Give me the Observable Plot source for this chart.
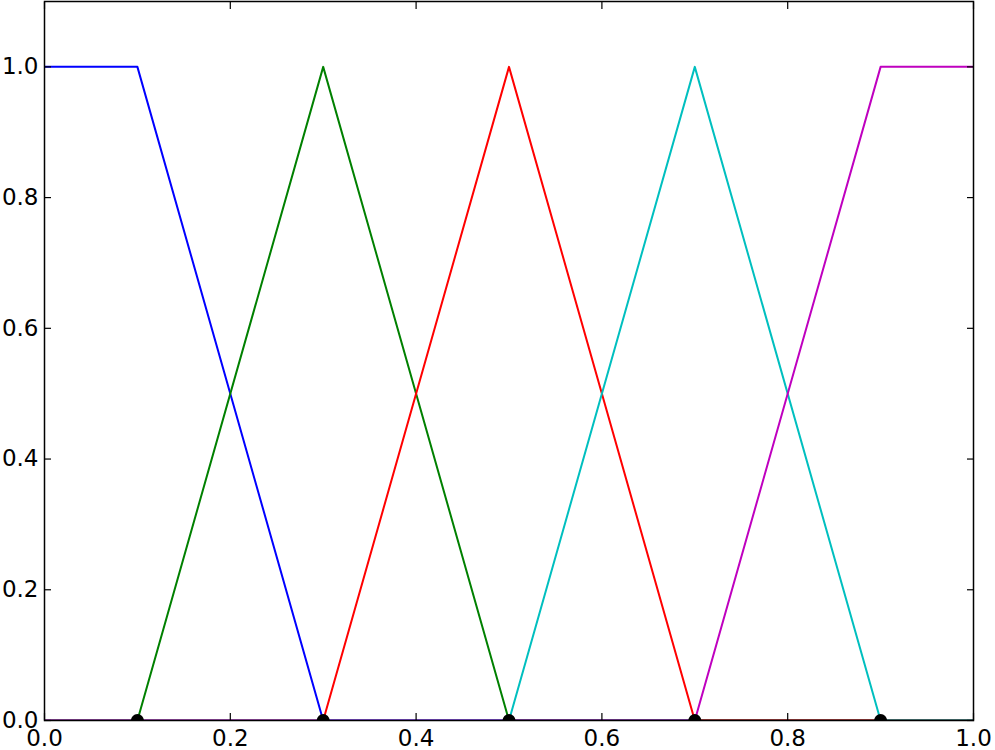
<!DOCTYPE html>
<html>
<head>
<meta charset="utf-8">
<script src="https://cdn.jsdelivr.net/npm/d3@7"></script>
<script src="https://cdn.jsdelivr.net/npm/@observablehq/plot@0.6"></script>
<style>
  html, body { margin: 0; padding: 0; background: #fff; }
  #chart svg { display: block; }
</style>
</head>
<body>
<div id="chart"></div>
<script>
// Membership functions (x breakpoints and y values)
const seriesNames = ["mf1", "mf2", "mf3", "mf4", "mf5"];
const seriesColors = ["#0000ff", "#008000", "#ff0000", "#00bfbf", "#bf00bf"];
const mf1X = [0, 0.1, 0.3, 1.0];
const mf1Y = [1, 1, 0, 0];
const mf2X = [0, 0.1, 0.3, 0.5, 1.0];
const mf2Y = [0, 0, 1, 0, 0];
const mf3X = [0, 0.3, 0.5, 0.7, 1.0];
const mf3Y = [0, 0, 1, 0, 0];
const mf4X = [0, 0.5, 0.7, 0.9, 1.0];
const mf4Y = [0, 0, 1, 0, 0];
const mf5X = [0, 0.7, 0.9, 1.0];
const mf5Y = [0, 0, 1, 1];
const dotX = [0.1, 0.3, 0.5, 0.7, 0.9];
const dotY = [0, 0, 0, 0, 0];
const xTicks = [0, 0.2, 0.4, 0.6, 0.8, 1.0];
const yTicks = [0, 0.2, 0.4, 0.6, 0.8, 1.0];

const allX = [mf1X, mf2X, mf3X, mf4X, mf5X];
const allY = [mf1Y, mf2Y, mf3Y, mf4Y, mf5Y];
const lineData = [];
allX.forEach((xs, i) => xs.forEach((x, j) => lineData.push({series: seriesNames[i], x, y: allY[i][j]})));
const dots = dotX.map((x, i) => ({x, y: dotY[i]}));

const font = "DejaVu Sans";
const fs = 23;
const chart = Plot.plot({
  width: 995,
  height: 750,
  marginLeft: 44,
  marginRight: 22,
  marginTop: 1,
  marginBottom: 30,
  style: {fontFamily: font, fontSize: fs + "px", color: "#000", background: "#fff"},
  x: {domain: [0, 1], axis: null, label: null},
  y: {domain: [0, 1.1], axis: null, label: null},
  color: {domain: seriesNames, range: seriesColors},
  marks: [
    Plot.line(lineData, {x: "x", y: "y", z: "series", stroke: "series", strokeWidth: 2, clip: true}),
    Plot.dot(dots, {x: "x", y: "y", r: 6.5, fill: "#000", stroke: "none", clip: true}),
    // inward tick marks on all four sides
    Plot.axisX(xTicks, {anchor: "bottom", tickSize: 7, dy: -7, tickFormat: () => "", label: null, strokeWidth: 1.2}),
    Plot.axisX(xTicks, {anchor: "top", tickSize: 7, dy: 7, tickFormat: () => "", label: null, strokeWidth: 1.2}),
    Plot.axisY(yTicks, {anchor: "left", tickSize: 7, dx: 7, tickFormat: () => "", label: null, strokeWidth: 1.2}),
    Plot.axisY(yTicks, {anchor: "right", tickSize: 7, dx: -7, tickFormat: () => "", label: null, strokeWidth: 1.2}),
    // tick labels
    Plot.axisX(xTicks, {anchor: "bottom", tickSize: 0, tickPadding: 9, tickFormat: d3.format(".1f"), label: null, fontSize: fs, fill: "#000"}),
    Plot.axisY(yTicks, {anchor: "left", tickSize: 0, tickPadding: 6, tickFormat: d3.format(".1f"), label: null, fontSize: fs, fill: "#000"}),
    Plot.frame({stroke: "#000", strokeWidth: 1.5})
  ]
});
document.getElementById("chart").appendChild(chart);
</script>
</body>
</html>
